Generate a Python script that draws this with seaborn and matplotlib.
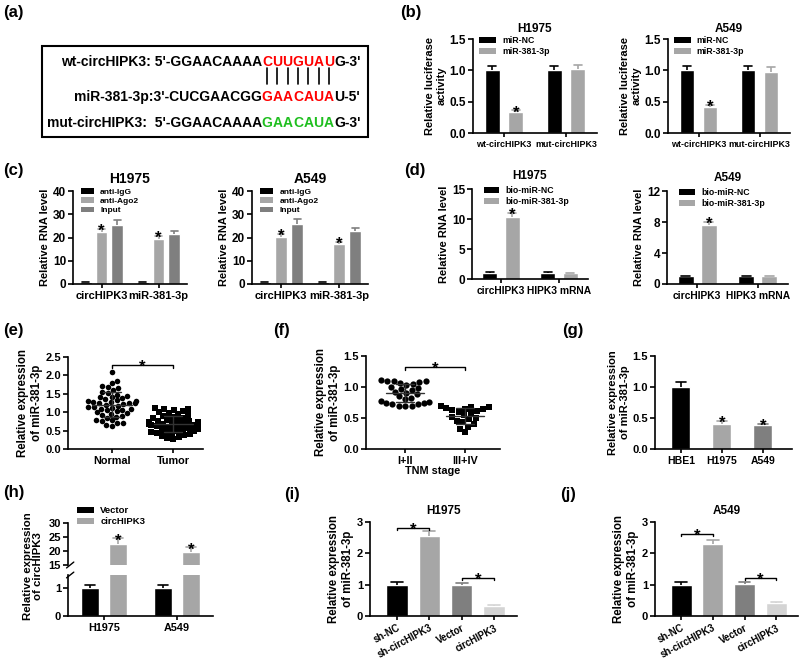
import numpy as np
import pandas as pd
import matplotlib
matplotlib.use("Agg")
import matplotlib.pyplot as plt
from matplotlib.patches import Patch, Rectangle
import seaborn as sns

# ---------------- data ----------------
# (a) sequences: prefix, paired segment, suffix
seq_wt = ("wt-circHIPK3: 5'-GGAACAAAA", "CUUGUAU", "G-3'")
seq_mir = ("miR-381-3p:3'-CUCGAACGG", "GAACAUA", "U-5'")
seq_mut = ("mut-circHIPK3:  5'-GGAACAAAA", "GAACAUA", "G-3'")

# (b) luciferase
b_cats = ["wt-circHIPK3", "mut-circHIPK3"]
b_hues = ["miR-NC", "miR-381-3p"]
b_h1975_vals = [[1.00, 1.00], [0.33, 1.02]]
b_h1975_errs = [[0.07, 0.07], [0.03, 0.07]]
b_a549_vals = [[1.00, 1.00], [0.41, 0.98]]
b_a549_errs = [[0.07, 0.07], [0.04, 0.07]]
b_sig = [[0, 0], [1, 0]]

# (c) RIP
c_cats = ["circHIPK3", "miR-381-3p"]
c_hues = ["anti-IgG", "anti-Ago2", "Input"]
c_h1975_vals = [[0.8, 0.7], [22.2, 19.5], [25.3, 21.3]]
c_h1975_errs = [[0.2, 0.2], [1.5, 1.2], [2.2, 1.6]]
c_a549_vals = [[0.8, 0.7], [20.4, 17.2], [26.0, 22.7]]
c_a549_errs = [[0.2, 0.2], [1.0, 1.0], [1.8, 1.5]]
c_sig = [[0, 0], [1, 1], [0, 0]]

# (d) pull-down
d_cats = ["circHIPK3", "HIPK3 mRNA"]
d_hues = ["bio-miR-NC", "bio-miR-381-3p"]
d_h1975_vals = [[1.0, 1.0], [10.4, 1.0]]
d_h1975_errs = [[0.1, 0.1], [0.6, 0.08]]
d_a549_vals = [[1.0, 1.0], [7.6, 1.0]]
d_a549_errs = [[0.08, 0.08], [0.4, 0.08]]
d_sig = [[0, 0], [1, 0]]

# (e) tissues
e_cats = ["Normal", "Tumor"]
e_normal = [2.08, 1.85, 1.80, 1.72, 1.68, 1.65, 1.60, 1.55, 1.52, 1.48, 1.45, 1.42,
            1.40, 1.38, 1.35, 1.33, 1.30, 1.30, 1.28, 1.27, 1.26, 1.25, 1.24, 1.22,
            1.20, 1.18, 1.15, 1.13, 1.12, 1.10, 1.08, 1.07, 1.05, 1.03, 1.00, 0.98,
            0.95, 0.92, 0.90, 0.88, 0.85, 0.80, 0.78, 0.75, 0.72, 0.70, 0.65, 0.62]
e_tumor = [1.12, 1.10, 1.08, 1.05, 1.03, 1.00, 0.98, 0.95, 0.92, 0.90, 0.88, 0.85,
           0.83, 0.80, 0.78, 0.77, 0.75, 0.74, 0.73, 0.72, 0.72, 0.71, 0.70, 0.70,
           0.69, 0.68, 0.68, 0.67, 0.66, 0.65, 0.63, 0.62, 0.60, 0.58, 0.57, 0.55,
           0.53, 0.52, 0.50, 0.48, 0.46, 0.45, 0.43, 0.42, 0.40, 0.38, 0.35, 0.32,
           0.30, 0.27]

# (f) TNM stage
f_cats = ["I+II", "III+IV"]
f_early = [1.12, 1.10, 1.10, 1.09, 1.08, 1.07, 1.05, 1.03, 1.00, 0.98, 0.97, 0.95,
           0.92, 0.90, 0.88, 0.85, 0.82, 0.80, 0.78, 0.76, 0.75, 0.74, 0.73, 0.72,
           0.70, 0.70, 0.69]
f_late = [0.69, 0.68, 0.67, 0.66, 0.65, 0.64, 0.63, 0.62, 0.60, 0.58, 0.55, 0.52,
          0.50, 0.48, 0.45, 0.43, 0.40, 0.36, 0.33, 0.27]

# (g) cell lines
g_cats = ["HBE1", "H1975", "A549"]
g_vals = [1.00, 0.41, 0.38]
g_errs = [0.08, 0.04, 0.03]
g_sig = [0, 1, 1]

# (h) overexpression
h_cats = ["H1975", "A549"]
h_hues = ["Vector", "circHIPK3"]
h_vals = [[1.0, 1.0], [22.5, 19.5]]
h_errs = [[0.08, 0.08], [2.0, 1.8]]
h_sig = [[0, 0], [1, 1]]

# (i), (j)
ij_cats = ["sh-NC", "sh-circHIPK3", "Vector", "circHIPK3"]
i_vals = [1.00, 2.55, 0.98, 0.32]
i_errs = [0.07, 0.15, 0.07, 0.03]
j_vals = [1.00, 2.30, 1.02, 0.41]
j_errs = [0.07, 0.13, 0.08, 0.03]
ij_sig = [0, 0, 0, 0]
i_brackets = [(0, 1, 2.82), (2, 3, 1.22)]
j_brackets = [(0, 1, 2.63), (2, 3, 1.22)]

# ---------------- style ----------------
BLACK, LGRAY, DGRAY, VLGRAY = "#000000", "#a6a6a6", "#7f7f7f", "#d4d4d4"
sns.set_style("ticks")
plt.rcParams["font.family"] = ["Liberation Sans", "DejaVu Sans"]
plt.rcParams["font.weight"] = "bold"
plt.rcParams["axes.labelweight"] = "bold"
plt.rcParams["axes.titleweight"] = "bold"
plt.rcParams["axes.linewidth"] = 1.2
plt.rcParams["axes.edgecolor"] = "black"
plt.rcParams["xtick.color"] = "black"
plt.rcParams["ytick.color"] = "black"
plt.rcParams["text.color"] = "black"
plt.rcParams["axes.labelcolor"] = "black"
plt.rcParams["xtick.major.width"] = 1.2
plt.rcParams["ytick.major.width"] = 1.2

W, H = 800, 663
fig = plt.figure(figsize=(8, 6.63), dpi=100)

ov = fig.add_axes([0, 0, 1, 1])
ov.set_xlim(0, W)
ov.set_ylim(H, 0)
ov.axis("off")

STAR = 12


def add_ax(l, t, r, b):
    return fig.add_axes([l / W, 1 - b / H, (r - l) / W, (b - t) / H])


def bars(ax, cats, hues, vals, errs, sig, colors, width, gap=0.0):
    rows = []
    if hues is None:
        for ci, c in enumerate(cats):
            rows.append(dict(cat=c, grp=c, val=vals[ci], err=errs[ci], sig=sig[ci]))
        hue_order = cats
    else:
        for hi, h in enumerate(hues):
            for ci, c in enumerate(cats):
                rows.append(dict(cat=c, grp=h, val=vals[hi][ci], err=errs[hi][ci],
                                 sig=sig[hi][ci]))
        hue_order = hues
    df = pd.DataFrame(rows)
    sns.barplot(data=df, x="cat", y="val", hue="grp", order=cats, hue_order=hue_order,
                palette=colors, width=width, gap=gap, errorbar=None, saturation=1,
                legend=False, ax=ax, dodge=hues is not None)
    for hi, cont in enumerate(ax.containers):
        for p in cont.patches:
            cx = p.get_x() + p.get_width() / 2
            ci = int(round(cx))
            r = df[(df.grp == hue_order[hi]) & (df.cat == cats[ci])].iloc[0]
            top = p.get_y() + p.get_height()
            col = p.get_facecolor()
            hw = p.get_width() * 0.28
            ax.plot([cx, cx], [top, top + r.err], color=col, lw=1.2, zorder=1,
                    solid_capstyle="butt")
            ax.plot([cx - hw, cx + hw], [top + r.err] * 2, color=col, lw=1.2, zorder=1)
            if r.sig:
                ax.annotate("*", (cx, top + r.err), xytext=(0, -5),
                            textcoords="offset points", ha="center", va="baseline",
                            fontsize=STAR, fontweight="bold")
    return df


def style(ax, ylim, yticks, yfmt, ytick_fs, xtick_fs, xlim=None):
    ax.set_ylim(*ylim)
    ax.set_yticks(yticks)
    ax.set_yticklabels([yfmt.format(t) for t in yticks], fontsize=ytick_fs)
    if xlim is not None:
        ax.set_xlim(*xlim)
    sns.despine(ax=ax)
    ax.tick_params(axis="x", labelsize=xtick_fs, length=3, pad=2)
    ax.tick_params(axis="y", length=3.5, pad=1.5)
    ax.set_xlabel("")
    ax.set_ylabel("")


def legend(ax, labels, colors, anchor, fs=6, hl=1.9):
    handles = [Patch(facecolor=c, edgecolor="none") for c in colors]
    ax.legend(handles, labels, loc="upper left", bbox_to_anchor=anchor, frameon=False,
              prop={"size": fs, "weight": "bold"}, handlelength=hl, handleheight=0.6,
              handletextpad=0.7, labelspacing=0.2, borderpad=0, borderaxespad=0)


def bracket(ax, x1, x2, y, d):
    ax.plot([x1, x1, x2, x2], [y - d, y, y, y - d], color="black", lw=1, clip_on=False)
    ax.annotate("*", ((x1 + x2) / 2, y), xytext=(0, -5), textcoords="offset points",
                ha="center", va="baseline", fontsize=STAR, fontweight="bold")


def dots(ax, cats, arrays, markers, size):
    df = pd.concat([pd.DataFrame({"cat": c, "val": a}) for c, a in zip(cats, arrays)])
    for c, m in zip(cats, markers):
        sns.swarmplot(data=df[df.cat == c], x="cat", y="val", order=cats, marker=m,
                      color="black", size=size, ax=ax, linewidth=0)
    for i, a in enumerate(arrays):
        m, s = np.mean(a), np.std(a, ddof=1)
        ax.plot([i - 0.32, i + 0.32], [m, m], color="#333333", lw=1, zorder=5)
        ax.plot([i - 0.15, i + 0.15], [m - s, m - s], color="#333333", lw=1, zorder=5)
        ax.plot([i - 0.15, i + 0.15], [m + s, m + s], color="#333333", lw=1, zorder=5)
        ax.plot([i, i], [m - s, m + s], color="#333333", lw=1, zorder=5)


# ---------------- panel labels ----------------
for lab, x, y in [("(a)", 3, 12), ("(b)", 400, 12), ("(c)", 3, 171), ("(d)", 404, 171),
                  ("(e)", 3, 330), ("(f)", 273, 330), ("(g)", 562, 331),
                  ("(h)", 3, 492), ("(i)", 284, 495), ("(j)", 560, 495)]:
    ov.text(x, y, lab, fontsize=12, fontweight="bold", ha="left", va="center")

# ---------------- (a) ----------------
ov.add_patch(Rectangle((42, 46), 326, 91, fill=False, lw=1.5, edgecolor="black"))
x0, step, fs_a = 267, 10.3, 10
for (pre, mid, suf), y, col in [(seq_wt, 62, "#ff0000"), (seq_mir, 97, "#ff0000"),
                                (seq_mut, 123, "#1fbf1f")]:
    ov.text(x0 - step / 2, y, pre, ha="right", va="center", fontsize=fs_a)
    for k, ch in enumerate(mid):
        ov.text(x0 + k * step, y, ch, ha="center", va="center", fontsize=fs_a, color=col)
    ov.text(x0 + (len(mid) - 1) * step + step / 2, y, suf, ha="left", va="center",
            fontsize=fs_a)
for k in range(len(seq_wt[1])):
    ov.plot([x0 + k * step] * 2, [68, 84], color="black", lw=1.2)

# ---------------- (b) ----------------
for (l, r), title, vals, errs in [((473, 597), "H1975", b_h1975_vals, b_h1975_errs),
                                  ((668, 790), "A549", b_a549_vals, b_a549_errs)]:
    ax = add_ax(l, 39, r, 133)
    bars(ax, b_cats, b_hues, vals, errs, b_sig, [BLACK, LGRAY], width=0.76, gap=0.37)
    style(ax, (0, 1.5), [0, 0.5, 1.0, 1.5], "{:.1f}", 8.5, 6.4, (-0.5, 1.5))
    ax.set_title(title, fontsize=8.5, pad=5)
    ax.set_ylabel("Relative luciferase\nactivity", fontsize=8, labelpad=2)
    legend(ax, b_hues, [BLACK, LGRAY], (0.05, 1.03), fs=6.3)

# ---------------- (c) ----------------
for (l, r), title, vals, errs in [((73, 187), "H1975", c_h1975_vals, c_h1975_errs),
                                  ((252, 368), "A549", c_a549_vals, c_a549_errs)]:
    ax = add_ax(l, 191, r, 284)
    bars(ax, c_cats, c_hues, vals, errs, c_sig, [BLACK, LGRAY, DGRAY], width=0.84,
         gap=0.25)
    style(ax, (0, 40), [0, 10, 20, 30, 40], "{:.0f}", 8.5, 8, (-0.5, 1.5))
    ax.set_title(title, fontsize=10, pad=6)
    ax.set_ylabel("Relative RNA level", fontsize=8, labelpad=2)
    legend(ax, c_hues, [BLACK, LGRAY, DGRAY], (0.07, 1.03), fs=6, hl=1.6)

# ---------------- (d) ----------------
for (l, t, r, b), title, vals, errs, ylim, yt in [
        ((472, 189, 588, 279), "H1975", d_h1975_vals, d_h1975_errs, (0, 15), [0, 5, 10, 15]),
        ((667, 191, 788, 284), "A549", d_a549_vals, d_a549_errs, (0, 12), [0, 4, 8, 12])]:
    ax = add_ax(l, t, r, b)
    bars(ax, d_cats, d_hues, vals, errs, d_sig, [BLACK, LGRAY], width=0.76, gap=0.32)
    style(ax, ylim, yt, "{:.0f}", 8.5, 7.4, (-0.5, 1.5))
    ax.set_title(title, fontsize=8.5, pad=7)
    ax.set_ylabel("Relative RNA level", fontsize=8, labelpad=2)
    legend(ax, d_hues, [BLACK, LGRAY], (0.1, 1.03), fs=6.3, hl=1.8)

# ---------------- (e) ----------------
ax = add_ax(68, 357, 203, 449)
dots(ax, e_cats, [e_normal, e_tumor], ["o", "s"], 4)
style(ax, (0, 2.5), [0, 0.5, 1.0, 1.5, 2.0, 2.5], "{:.1f}", 8, 7.8, (-0.72, 1.49))
ax.set_ylabel("Relative expression\nof miR-381-3p", fontsize=8.3, labelpad=2)
bracket(ax, 0, 1, 2.28, 0.07)

# ---------------- (f) ----------------
ax = add_ax(366, 356, 500, 449)
dots(ax, f_cats, [f_early, f_late], ["o", "s"], 4.5)
style(ax, (0, 1.5), [0, 0.5, 1.0, 1.5], "{:.1f}", 8, 7.8, (-0.65, 1.58))
ax.set_ylabel("Relative expression\nof miR-381-3p", fontsize=8.3, labelpad=2)
ax.set_xlabel("TNM stage", fontsize=7.8, labelpad=0)
bracket(ax, 0, 1, 1.32, 0.04)

# ---------------- (g) ----------------
ax = add_ax(655, 356, 792, 449)
bars(ax, g_cats, None, g_vals, g_errs, g_sig, [BLACK, LGRAY, DGRAY], width=0.46)
style(ax, (0, 1.5), [0, 0.5, 1.0, 1.5], "{:.1f}", 8, 7.5, (-0.63, 2.71))
ax.set_ylabel("Relative expression\nof miR-381-3p", fontsize=8, labelpad=2)

# ---------------- (h) broken axis ----------------
ax_up = add_ax(68, 523, 213, 565)
ax_lo = add_ax(68, 575, 213, 616)
for a in (ax_up, ax_lo):
    bars(a, h_cats, h_hues, h_vals, h_errs, h_sig if a is ax_up else [[0, 0], [0, 0]],
         [BLACK, LGRAY], width=0.78, gap=0.36)
style(ax_up, (15, 30), [15, 20, 25, 30], "{:.0f}", 8, 7.8, (-0.5, 1.5))
style(ax_lo, (0, 1.45), [0, 1], "{:.0f}", 8, 7.8, (-0.5, 1.5))
ax_up.spines["bottom"].set_visible(False)
ax_up.tick_params(axis="x", bottom=False, labelbottom=False)
for a, yy in [(ax_up, 0.0), (ax_lo, 1.0)]:
    a.plot([-0.01, 0.04], [yy - 0.07, yy + 0.07], transform=a.transAxes, color="black",
           lw=1, clip_on=False)
ov.text(33, 566, "Relative expression\nof circHIPK3", rotation=90, ha="center",
        va="center", fontsize=8.2, fontweight="bold", linespacing=1.1)
legend(ax_up, h_hues, [BLACK, LGRAY], (0.06, 1.4), fs=6.8, hl=1.8)

# ---------------- (i), (j) ----------------
for (l, r), title, vals, errs, brs, xl in [
        ((370, 517), "H1975", i_vals, i_errs, i_brackets, (-0.84, 3.71)),
        ((655, 798), "A549", j_vals, j_errs, j_brackets, (-0.82, 3.68))]:
    ax = add_ax(l, 522, r, 616)
    bars(ax, ij_cats, None, vals, errs, ij_sig, [BLACK, LGRAY, DGRAY, VLGRAY], width=0.66)
    style(ax, (0, 3), [0, 1, 2, 3], "{:.0f}", 8, 7, xl)
    ax.set_title(title, fontsize=8.5, pad=6)
    ax.set_ylabel("Relative expression\nof miR-381-3p", fontsize=8.3, labelpad=2)
    plt.setp(ax.get_xticklabels(), rotation=28, ha="right", rotation_mode="anchor")
    for x1, x2, y in brs:
        bracket(ax, x1, x2, y, 0.08)

fig.savefig("out.png", dpi=100)
